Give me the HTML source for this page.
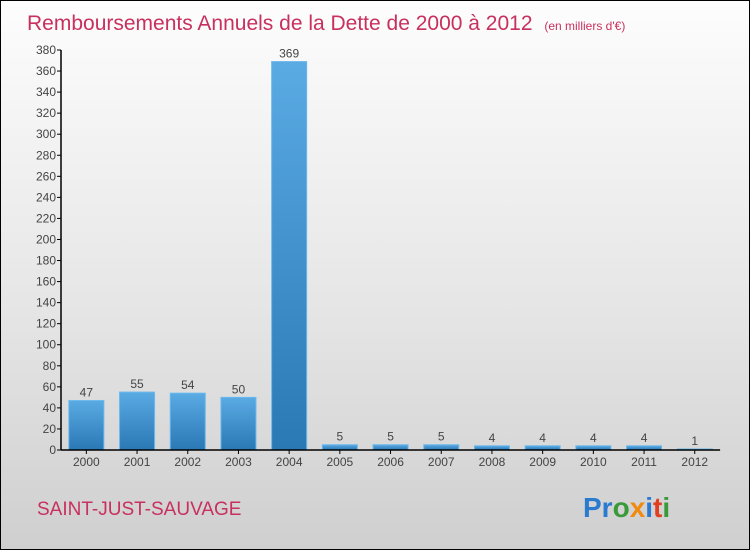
<!DOCTYPE html>
<html><head><meta charset="utf-8"><style>
body{margin:0}
#c{position:relative;width:748px;height:548px;border:1px solid #000;background:linear-gradient(#fdfdfd,#e6e6e6 55%,#cfcfcf);font-family:"Liberation Sans",sans-serif;overflow:hidden}
</style></head><body>
<div id="c">
<svg width="748" height="548" id="s">
<defs><linearGradient id="g" x1="0" y1="0" x2="0" y2="1"><stop offset="0" stop-color="#5aaae4"/><stop offset="1" stop-color="#2a78b4"/></linearGradient></defs>
<text x="26" y="29" font-size="21" fill="#c8305f">Remboursements Annuels de la Dette de 2000 à 2012 <tspan font-size="12" dx="6">(en milliers d'€)</tspan></text>
<text x="36" y="514" font-size="19" fill="#c8305f">SAINT-JUST-SAUVAGE</text>
<text x="582" y="516" font-size="28" font-weight="bold"><tspan fill="#2a7ad0">Pr</tspan><tspan fill="#3a9a3a">o</tspan><tspan fill="#f08a10">x</tspan><tspan fill="#2a7ad0">i</tspan><tspan fill="#e04020">t</tspan><tspan fill="#3a9a3a">i</tspan></text>
<g id="plot"></g>
</svg>
</div>
<script>
const categories=["2000","2001","2002","2003","2004","2005","2006","2007","2008","2009","2010","2011","2012"];
const values=[47,55,54,50,369,5,5,5,4,4,4,4,1];
const yTicks=[0,20,40,60,80,100,120,140,160,180,200,220,240,260,280,300,320,340,360,380];
const NS="http://www.w3.org/2000/svg";
const g=document.getElementById('plot');
const x0=60,slot=50.7,y0=449,ppu=400/380;
const y=v=>y0-v*ppu, xc=i=>x0+slot*(i+0.5);
function el(t,a,txt){const e=document.createElementNS(NS,t);for(const k in a)e.setAttribute(k,a[k]);if(txt!=null)e.textContent=txt;g.appendChild(e);return e;}
yTicks.forEach(t=>{
 const l=el('line',{x1:x0-4,x2:x0,y1:y(t),y2:y(t),stroke:'#000'});
 
 
 const tx=el('text',{x:x0-5,y:y(t)+4,'font-size':12,'text-anchor':'end',fill:'#444'},t);
 
 
});
values.forEach((v,i)=>{
 const r=el('rect',{x:xc(i)-17.5,y:y(v),width:35,height:y0-y(v),fill:'url(#g)',stroke:'#6ab8ec','stroke-width':1});
 
 
 const t=el('text',{x:xc(i),y:y(v)-4,'font-size':12,'text-anchor':'middle',fill:'#444'},v);
 
 
 const c=el('text',{x:xc(i),y:y0+16,'font-size':12,'text-anchor':'middle',fill:'#444'},categories[i]);
 
 
 const tk=el('line',{x1:xc(i),x2:xc(i),y1:y0,y2:y0+4,stroke:'#000'});
 
 
});
const ya=el('line',{x1:x0,x2:x0,y1:y(380),y2:y0,stroke:'#000','stroke-width':1.5});


const xa=el('line',{x1:x0,x2:x0+slot*13,y1:y0,y2:y0,stroke:'#000','stroke-width':1.5});


</script>
</body></html>
